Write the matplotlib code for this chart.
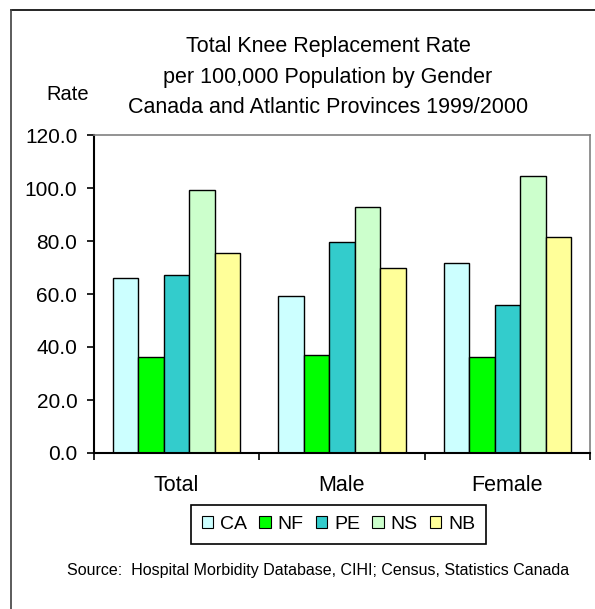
"""
Total knee replacement rate per 100,000 population by gender,
Canada and Atlantic Provinces 1999/2000 — grouped bar chart.
"""

import matplotlib.patches as mpatches
import matplotlib.pyplot as plt
import numpy as np
from matplotlib.lines import Line2D

# ── Data ───────────────────────────────────────────────────────────────────────

CATEGORIES = ["Total", "Male", "Female"]
PROVINCES  = ["CA", "NF", "PE", "NS", "NB"]

CA = [65.9, 59.1, 71.8]
NF = [36.2, 37.0, 36.2]
PE = [67.3, 79.5, 56.0]
NS = [99.1, 93.0, 104.6]
NB = [75.6, 69.7, 81.6]

Y_TICKS = [0, 20, 40, 60, 80, 100, 120]

COLORS = ["#CCFFFF", "#00FF00", "#33CCCC", "#CCFFCC", "#FFFF99"]

TITLE  = ("Total Knee Replacement Rate\n"
          "per 100,000 Population by Gender\n"
          "Canada and Atlantic Provinces 1999/2000")
SOURCE = "Source:  Hospital Morbidity Database, CIHI; Census, Statistics Canada"

# ── Style ──────────────────────────────────────────────────────────────────────

plt.rcParams.update({
    "font.family": ["Liberation Sans", "DejaVu Sans"],
    "font.size":   14,
})

W, H = 595, 609


def fx(px):
    return px / W


def fy(py):
    return 1 - py / H


# ── Plot ───────────────────────────────────────────────────────────────────────

fig = plt.figure(figsize=(W / 100, H / 100), dpi=100)
ax = fig.add_axes([fx(94), fy(453), fx(590) - fx(94), fy(135) - fy(453)])

series = [CA, NF, PE, NS, NB]
x = np.arange(len(CATEGORIES))
width = 0.772 / len(series)

for i, (name, vals, color) in enumerate(zip(PROVINCES, series, COLORS)):
    ax.bar(x + (i - 2) * width, vals, width, color=color,
           edgecolor="black", linewidth=1.0, label=name, zorder=2)

ax.set_xlim(-0.5, 2.5)
ax.set_ylim(0, 120)

ax.set_yticks(Y_TICKS)
ax.set_yticklabels([f"{v:.1f}" for v in Y_TICKS])
ax.tick_params(axis="y", direction="out", length=5, width=1.2, pad=7,
               labelsize=15)

# major ticks at group boundaries, labels at group centres
ax.set_xticks([-0.5, 0.5, 1.5, 2.5])
ax.set_xticklabels([])
ax.tick_params(axis="x", which="major", direction="out", length=5, width=1.2)
ax.set_xticks(x, minor=True)
ax.set_xticklabels(CATEGORIES, minor=True)
ax.tick_params(axis="x", which="minor", length=0, pad=16, labelsize=15.5)

for side in ("top", "right"):
    ax.spines[side].set_color("#808080")
    ax.spines[side].set_linewidth(1.2)
for side in ("left", "bottom"):
    ax.spines[side].set_color("black")
    ax.spines[side].set_linewidth(1.5)

# ── Text ───────────────────────────────────────────────────────────────────────

fig.text(fx(328), fy(77), TITLE, ha="center", va="center",
         fontsize=15.5, linespacing=1.57)
fig.text(fx(67.5), fy(95), "Rate", ha="center", va="center", fontsize=14.5)
fig.text(fx(318), fy(571), SOURCE, ha="center", va="center", fontsize=11.5)

# manual legend with square swatches
handles = [mpatches.Patch(facecolor=c, edgecolor="black", linewidth=0.8, label=p)
           for p, c in zip(PROVINCES, COLORS)]
leg = fig.legend(handles=handles, loc="center", ncol=5,
                 bbox_to_anchor=(fx(338.5), fy(524.5)),
                 fontsize=14, handlelength=0.6, handleheight=0.6,
                 handletextpad=0.35, columnspacing=0.62, borderpad=0.55,
                 fancybox=False, framealpha=1)
leg.get_frame().set_edgecolor("black")
leg.get_frame().set_linewidth(1.2)

# outer frame (top and left edges visible)
fig.add_artist(Line2D([fx(11), 1], [fy(9.5), fy(9.5)], color="black", lw=1.2))
fig.add_artist(Line2D([fx(11), fx(11)], [0, fy(9.5)], color="#404040", lw=1.2))

fig.savefig("out.png", dpi=100)
